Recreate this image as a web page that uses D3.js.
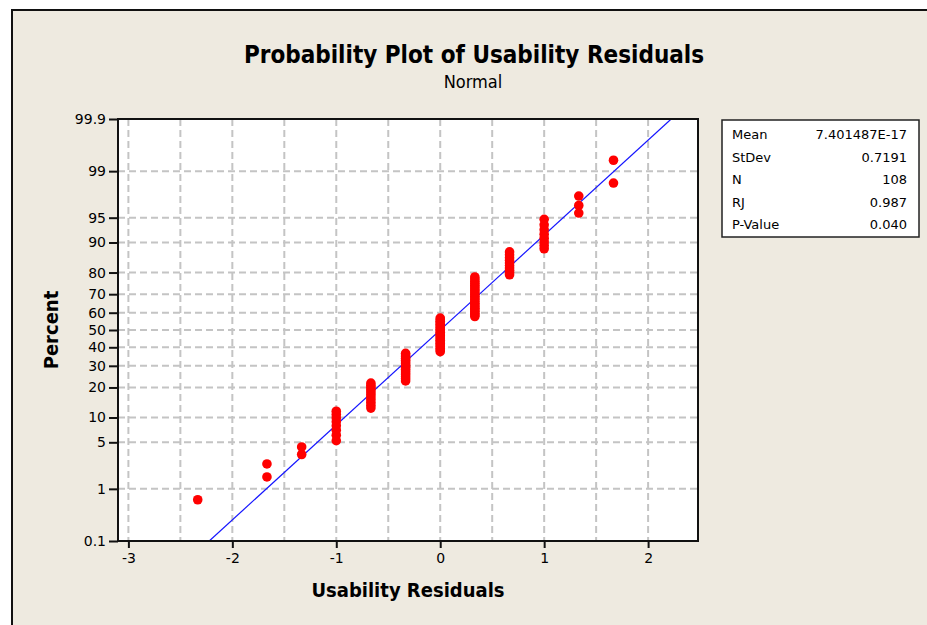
<!DOCTYPE html>
<html>
<head>
<meta charset="utf-8">
<script src="https://cdn.jsdelivr.net/npm/d3@7"></script>
<style>
  body { margin: 0; background: #fff; }
  text { font-family: "DejaVu Sans", Verdana, sans-serif; fill: #000; }
  .cond { font-family: "DejaVu Sans Condensed", "DejaVu Sans", sans-serif; }
</style>
</head>
<body>
<svg class="chart"></svg>
<script>
// residual values (groups) and how many of the 108 residuals sit at each one
const residualLevels = [-2.333, -1.667, -1.333, -1.0, -0.667, -0.333, 0, 0.333, 0.667, 1.0, 1.333, 1.667];
const levelCounts = [1, 2, 2, 8, 11, 16, 22, 23, 10, 8, 3, 2];

const percentTicks = [0.1, 1, 5, 10, 20, 30, 40, 50, 60, 70, 80, 90, 95, 99, 99.9];
const residualTicks = [-3, -2, -1, 0, 1, 2];
const residualGrid = [-3, -2.5, -2, -1.5, -1, -0.5, 0, 0.5, 1, 1.5, 2];

const statLabels = ["Mean", "StDev", "N", "RJ", "P-Value"];
const statValues = ["7.401487E-17", "0.7191", "108", "0.987", "0.040"];
const fitMean = 7.401487e-17;
const fitStDev = 0.7191;

let width = 927, height = 625;
let margin = {top: 119, right: 229, bottom: 84, left: 118};
let widthChart = width - margin.left - margin.right;
let heightChart = height - margin.top - margin.bottom;

// inverse normal cdf (Acklam)
function qnorm(p) {
  const a = [-39.69683028665376, 220.9460984245205, -275.9285104469687, 138.3577518672690, -30.66479806614716, 2.506628277459239];
  const b = [-54.47609879822406, 161.5858368580409, -155.6989798598866, 66.80131188771972, -13.28068155288572];
  const c = [-0.007784894002430293, -0.3223964580411365, -2.400758277161838, -2.549732539343734, 4.374664141464968, 2.938163982698783];
  const d = [0.007784695709041462, 0.3224671290700398, 2.445134137142996, 3.754408661907416];
  const pl = 0.02425;
  let q, r;
  if (p < pl) {
    q = Math.sqrt(-2 * Math.log(p));
    return (((((c[0]*q+c[1])*q+c[2])*q+c[3])*q+c[4])*q+c[5]) / ((((d[0]*q+d[1])*q+d[2])*q+d[3])*q+1);
  }
  if (p > 1 - pl) {
    q = Math.sqrt(-2 * Math.log(1 - p));
    return -(((((c[0]*q+c[1])*q+c[2])*q+c[3])*q+c[4])*q+c[5]) / ((((d[0]*q+d[1])*q+d[2])*q+d[3])*q+1);
  }
  q = p - 0.5; r = q * q;
  return (((((a[0]*r+a[1])*r+a[2])*r+a[3])*r+a[4])*r+a[5])*q / (((((b[0]*r+b[1])*r+b[2])*r+b[3])*r+b[4])*r+1);
}

// sorted residuals -> median rank plotting positions
let residuals = [];
residualLevels.forEach((v, i) => { for (let k = 0; k < levelCounts[i]; k++) residuals.push(v); });
let n = residuals.length;
let points = residuals.map((v, i) => ({x: v, p: (i + 1 - 0.3) / (n + 0.4)}));

let zMax = qnorm(0.999);
let x = d3.scaleLinear().domain([-3.1, 2.48]).range([0, widthChart]);
let y = d3.scaleLinear().domain([-zMax, zMax]).range([heightChart, 0]);

let svg = d3.select(".chart").attr("width", width).attr("height", height);

// frame
svg.append("rect").attr("x", 11).attr("y", 9).attr("width", width - 11).attr("height", height - 9)
  .attr("fill", "#eeeae0");
svg.append("path").attr("d", "M12,625V10H927").attr("fill", "none").attr("stroke", "#111").attr("stroke-width", 2);

svg.append("text").text("Probability Plot of Usability Residuals").attr("class", "cond")
  .attr("x", 474).attr("y", 63).attr("text-anchor", "middle")
  .attr("font-weight", "bold").attr("font-size", 24);
svg.append("text").text("Normal").attr("class", "cond")
  .attr("x", 473).attr("y", 88).attr("text-anchor", "middle").attr("font-size", 18);

let chart = svg.append("g").attr("transform", "translate(" + margin.left + "," + margin.top + ")");

chart.append("rect").attr("width", widthChart).attr("height", heightChart).attr("fill", "#fff");

// grid
chart.append("g").selectAll("line").data(residualGrid).enter().append("line")
  .attr("x1", d => x(d)).attr("x2", d => x(d)).attr("y1", 0).attr("y2", heightChart)
  .attr("stroke", "#c4c4c4").attr("stroke-width", 2).attr("stroke-dasharray", "7,4");
chart.append("g").selectAll("line").data(percentTicks.slice(1, -1)).enter().append("line")
  .attr("y1", d => y(qnorm(d / 100))).attr("y2", d => y(qnorm(d / 100))).attr("x1", 0).attr("x2", widthChart)
  .attr("stroke", "#c4c4c4").attr("stroke-width", 2).attr("stroke-dasharray", "7,4");

// fitted line
let clip = chart.append("clipPath").attr("id", "plotclip");
clip.append("rect").attr("width", widthChart).attr("height", heightChart);
chart.append("line")
  .attr("clip-path", "url(#plotclip)")
  .attr("x1", x(fitMean - fitStDev * zMax)).attr("y1", y(-zMax))
  .attr("x2", x(fitMean + fitStDev * zMax)).attr("y2", y(zMax))
  .attr("stroke", "#1414ff").attr("stroke-width", 1.2);

// points
chart.append("g").selectAll("circle").data(points).enter().append("circle")
  .attr("cx", d => x(d.x)).attr("cy", d => y(qnorm(d.p))).attr("r", 4.8)
  .attr("fill", "#ff0000");

chart.append("rect").attr("width", widthChart).attr("height", heightChart)
  .attr("fill", "none").attr("stroke", "#111").attr("stroke-width", 2);

// axes
let xAxis = d3.axisBottom(x).tickValues(residualTicks).tickSize(7).tickPadding(5).tickFormat(d => String(d));
let yAxis = d3.axisLeft(y).tickValues(percentTicks.map(p => qnorm(p / 100)))
  .tickFormat((d, i) => percentTicks[i]).tickSize(9).tickPadding(3);

let gx = chart.append("g").attr("transform", "translate(0," + heightChart + ")").call(xAxis);
let gy = chart.append("g").call(yAxis);
[gx, gy].forEach(g => {
  g.select(".domain").remove();
  g.selectAll("line").attr("stroke", "#111").attr("stroke-width", 2);
  g.selectAll("text").attr("font-size", 14).attr("font-family", "DejaVu Sans Condensed").attr("fill", "#000");
});

svg.append("text").text("Usability Residuals").attr("class", "cond")
  .attr("x", margin.left + widthChart / 2).attr("y", 597).attr("text-anchor", "middle")
  .attr("font-weight", "bold").attr("font-size", 20);
svg.append("text").text("Percent").attr("class", "cond")
  .attr("transform", "translate(58," + (margin.top + heightChart / 2) + ") rotate(-90)")
  .attr("text-anchor", "middle").attr("font-weight", "bold").attr("font-size", 20);

// stats box
let box = svg.append("g").attr("transform", "translate(722,120)");
box.append("rect").attr("width", 197).attr("height", 117).attr("fill", "#fff")
  .attr("stroke", "#222").attr("stroke-width", 1.5);
box.selectAll("text.lab").data(statLabels).enter().append("text").attr("class", "lab")
  .attr("x", 10).attr("y", (d, i) => 19 + i * 22.5).attr("font-size", 13).text(d => d);
box.selectAll("text.val").data(statValues).enter().append("text").attr("class", "val")
  .attr("x", 185).attr("y", (d, i) => 19 + i * 22.5).attr("font-size", 13)
  .attr("text-anchor", "end").text(d => d);
</script>
</body>
</html>
